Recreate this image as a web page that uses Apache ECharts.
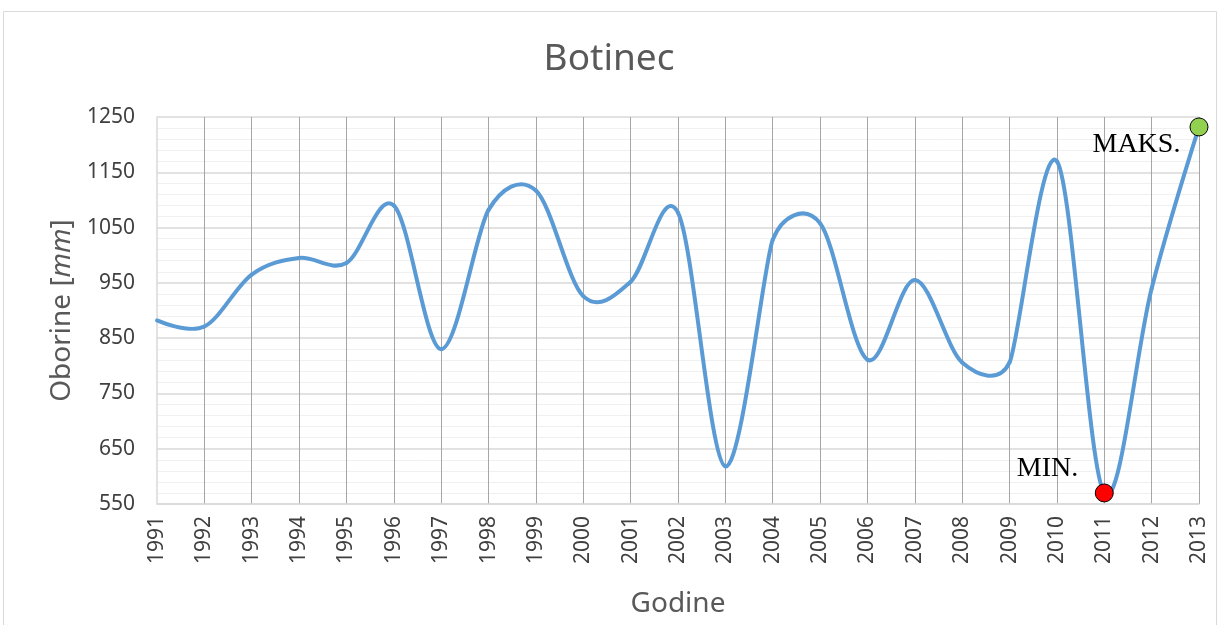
<!DOCTYPE html>
<html>
<head>
<meta charset="utf-8">
<script src="https://cdn.jsdelivr.net/npm/echarts@6/dist/echarts.min.js"></script>
<style>html,body{margin:0;padding:0;background:#fff}#c{width:1218px;height:625px}</style>
</head>
<body>
<div id="c"></div>
<script>
var years = ['1991','1992','1993','1994','1995','1996','1997','1998','1999','2000','2001','2002','2003','2004','2005','2006','2007','2008','2009','2010','2011','2012','2013'];
var oborine = [882, 871, 965, 995, 986, 1090, 830, 1082, 1117, 926, 952, 1077, 618, 1028, 1058, 811, 955, 806, 806, 1170, 570, 940, 1232];
var minIndex = 20;
var maxIndex = 22;
var yTicks = [550, 650, 750, 850, 950, 1050, 1150, 1250];

var chart = echarts.init(document.getElementById('c'));
var fontTick = 'Noto Sans';
var n = oborine.length;

function dist(a, b) { return Math.sqrt((a[0] - b[0]) * (a[0] - b[0]) + (a[1] - b[1]) * (a[1] - b[1])); }

// tangent control offset at point b (neighbours a, c), limited by half the shorter adjacent segment
function ctrl(a, b, c) {
  var d02 = dist(a, c);
  if (d02 === 0) return [0, 0];
  var len = d02 / 6;
  var lim = Math.min(dist(a, b), dist(b, c)) / 2;
  var k = Math.min(len, lim) / d02;
  return [(c[0] - a[0]) * k, (c[1] - a[1]) * k];
}

function renderSegment(params, api) {
  var i = params.dataIndex;
  if (i >= n - 1) return null;
  function pt(k) {
    k = Math.max(0, Math.min(n - 1, k));
    return api.coord([api.value(0, k), api.value(1, k)]);
  }
  var p0 = pt(i - 1), p1 = pt(i), p2 = pt(i + 1), p3 = pt(i + 2);
  var t1 = ctrl(p0, p1, p2), t2 = ctrl(p1, p2, p3);
  return {
    type: 'bezierCurve',
    shape: {
      x1: p1[0], y1: p1[1], x2: p2[0], y2: p2[1],
      cpx1: p1[0] + t1[0], cpy1: p1[1] + t1[1],
      cpx2: p2[0] - t2[0], cpy2: p2[1] - t2[1]
    },
    style: {fill: null, stroke: '#5b9bd5', lineWidth: 4, lineCap: 'round', lineJoin: 'round'}
  };
}

chart.setOption({
  animation: false,
  graphic: [{
    type: 'rect', shape: {x: 3.5, y: 11.5, width: 1213, height: 620},
    style: {fill: 'none', stroke: '#d9d9d9', lineWidth: 1}, silent: true
  }],
  title: {
    text: 'Botinec', left: 'center', top: 36,
    textStyle: {fontFamily: fontTick, fontSize: 37, fontWeight: 'normal', color: '#595959'}
  },
  grid: {left: 157, right: 19, top: 117, bottom: 121, containLabel: false},
  xAxis: {
    type: 'category', data: years, boundaryGap: false,
    name: 'Godine', nameLocation: 'middle', nameGap: 86,
    nameTextStyle: {fontFamily: fontTick, fontSize: 28, color: '#595959'},
    axisLine: {show: true, lineStyle: {color: '#d9d9d9', width: 1.5}},
    axisTick: {show: false},
    axisLabel: {rotate: 90, fontFamily: fontTick, fontSize: 21, color: '#404040', margin: 12, interval: 0},
    splitLine: {show: true, showMinLine: false, lineStyle: {color: '#a6a6a6', width: 1}}
  },
  yAxis: {
    type: 'value', min: yTicks[0], max: yTicks[yTicks.length - 1], interval: 100,
    name: '{n|Oborine [}{i|mm}{n|]}', nameLocation: 'middle', nameGap: 81, nameRotate: 90,
    nameTextStyle: {
      rich: {
        n: {fontFamily: fontTick, fontSize: 28, color: '#595959'},
        i: {fontFamily: fontTick, fontSize: 28, color: '#595959', fontStyle: 'italic'}
      }
    },
    axisLine: {show: true, lineStyle: {color: '#d9d9d9', width: 1.5}},
    axisTick: {show: false},
    axisLabel: {fontFamily: fontTick, fontSize: 21, color: '#404040', margin: 22,
      formatter: function (v) { return String(v); }},
    splitLine: {show: true, lineStyle: {color: '#d9d9d9', width: 1.5}},
    minorTick: {show: false, splitNumber: 5},
    minorSplitLine: {show: true, lineStyle: {color: '#f0f0f0', width: 1}}
  },
  series: [{
    type: 'custom',
    data: oborine.map(function (v, i) { return [i, v]; }),
    encode: {x: 0, y: 1},
    renderItem: renderSegment,
    clip: false,
    z: 3
  }, {
    type: 'line', data: oborine.map(function (v, i) {
      if (i === minIndex) {
        return {value: v, symbol: 'circle', symbolSize: 18,
          itemStyle: {color: '#ff0000', borderColor: '#000', borderWidth: 1},
          label: {show: true, formatter: 'MIN.', position: [-78, -29], fontFamily: 'Liberation Serif', fontSize: 28, color: '#000'}};
      }
      if (i === maxIndex) {
        return {value: v, symbol: 'circle', symbolSize: 18,
          itemStyle: {color: '#92d050', borderColor: '#000', borderWidth: 1},
          label: {show: true, formatter: 'MAKS.', position: [-97, 13], fontFamily: 'Liberation Serif', fontSize: 28, color: '#000'}};
      }
      return {value: v, symbol: 'none'};
    }),
    showSymbol: true, clip: false,
    lineStyle: {opacity: 0, width: 0},
    itemStyle: {color: '#5b9bd5'},
    z: 4
  }]
});
</script>
</body>
</html>
